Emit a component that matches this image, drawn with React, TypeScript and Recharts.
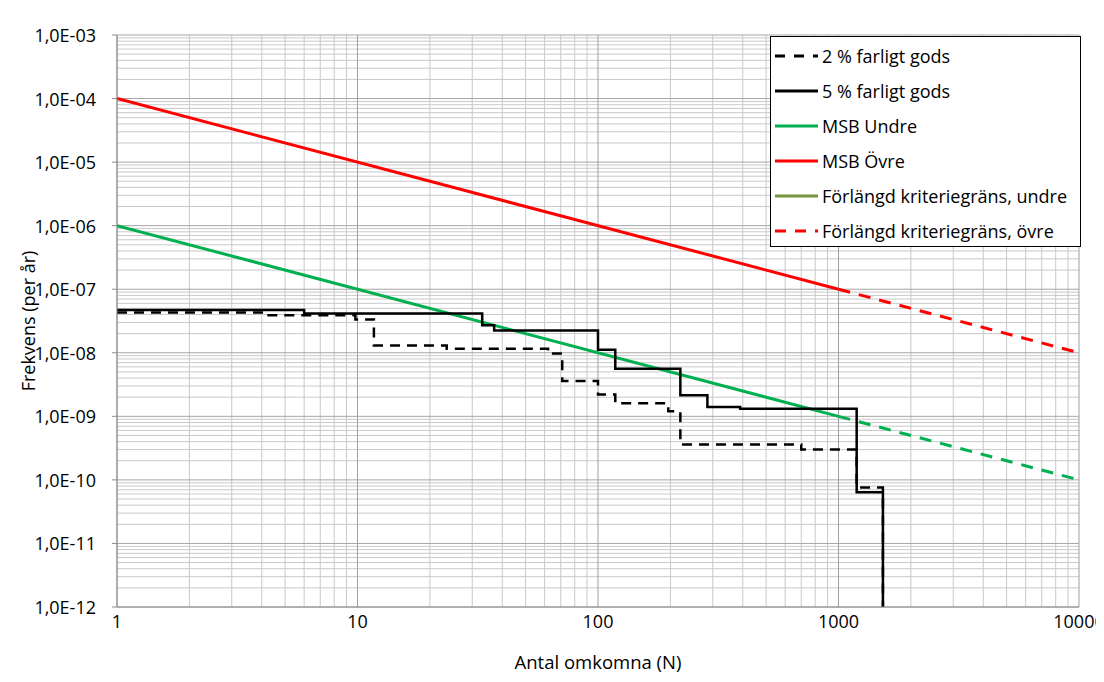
import React from 'react';
import { LineChart, Line, XAxis, YAxis, ReferenceLine, Legend } from 'recharts';

// 5 % farligt gods (stegkurva)
const N5 = [1, 6, 33, 37, 100, 118, 220, 285, 390, 1190, 1530];
const F5 = [4.7e-8, 4.15e-8, 2.7e-8, 2.25e-8, 1.12e-8, 5.6e-9, 2.15e-9, 1.4e-9, 1.32e-9, 6.4e-11, 1e-12];

// 2 % farligt gods (stegkurva)
const N2 = [1, 4, 9.8, 11.7, 23.5, 62, 71, 100, 118, 196, 220, 700, 1190, 1530];
const F2 = [4.3e-8, 3.9e-8, 3.35e-8, 1.3e-8, 1.16e-8, 9.7e-9, 3.6e-9, 2.2e-9, 1.6e-9, 1.2e-9, 3.6e-10, 3.0e-10, 7.6e-11, 1e-12];

// MSB kriterier
const MSB_N = [1, 1000];
const MSB_UNDRE = [1e-6, 1e-9];
const MSB_OVRE = [1e-4, 1e-7];
const EXT_N = [1000, 10000];
const EXT_UNDRE = [1e-9, 1e-10];
const EXT_OVRE = [1e-7, 1e-8];

const X_TICKS = [1, 10, 100, 1000, 10000];
const Y_TICKS = [1e-12, 1e-11, 1e-10, 1e-9, 1e-8, 1e-7, 1e-6, 1e-5, 1e-4, 1e-3];

const GREEN = '#00B050';
const RED = '#FF0000';
const OLIVE = '#77933C';
const FONT = 18;

const zip = (xs: number[], ys: number[]) => xs.map((x, i) => ({ x, y: ys[i] }));

const s5 = zip(N5, F5);
const s2 = zip(N2, F2);
const msbUndre = zip(MSB_N, MSB_UNDRE);
const msbOvre = zip(MSB_N, MSB_OVRE);
const extUndre = zip(EXT_N, EXT_UNDRE);
const extOvre = zip(EXT_N, EXT_OVRE);

// minor gridlines 2..9 per decade
const minorOf = (ticks: number[]) => {
  const out: number[] = [];
  ticks.slice(0, -1).forEach((t) => {
    for (let d = 2; d <= 9; d++) out.push(t * d);
  });
  return out;
};
const X_MINOR = minorOf(X_TICKS);
const Y_MINOR = minorOf(Y_TICKS);

const fmtY = (v: number) => {
  const e = Math.round(Math.log10(v));
  return `1,0E-${String(-e).padStart(2, '0')}`;
};

const LEGEND_ITEMS = [
  { label: '2 % farligt gods', color: '#000', dash: '10 9' },
  { label: '5 % farligt gods', color: '#000' },
  { label: 'MSB Undre', color: GREEN },
  { label: 'MSB Övre', color: RED },
  { label: 'Förlängd kriteriegräns, undre', color: OLIVE },
  { label: 'Förlängd kriteriegräns, övre', color: RED, dash: '11 9' },
];

const LegendBox = () => (
  <div
    style={{
      border: '1.5px solid #000',
      background: '#fff',
      width: 311,
      height: 211,
      paddingTop: 1,
      boxSizing: 'border-box',
      fontFamily: '"Open Sans", sans-serif',
    }}
  >
    {LEGEND_ITEMS.map((it) => (
      <div key={it.label} style={{ display: 'flex', alignItems: 'center', height: 35 }}>
        <svg width={47} height={10} style={{ marginLeft: 4, flexShrink: 0 }}>
          <line x1={0} y1={5} x2={43} y2={5} stroke={it.color} strokeWidth={3} strokeDasharray={it.dash} />
        </svg>
        <span style={{ fontSize: FONT, color: '#000', whiteSpace: 'nowrap' }}>{it.label}</span>
      </div>
    ))}
  </div>
);

const XTick = (props: any) => {
  const { x, y, payload } = props;
  return (
    <text x={x} y={y + 19} textAnchor="middle" style={{ fontSize: FONT }} fill="#000">
      {payload.value}
    </text>
  );
};

const YTick = (props: any) => {
  const { x, y, payload } = props;
  return (
    <text x={x - 16} y={y} textAnchor="end" dominantBaseline="central" style={{ fontSize: FONT }} fill="#000">
      {fmtY(payload.value)}
    </text>
  );
};

const XTitle = (props: any) => {
  const vb = props.viewBox || {};
  const cx = (vb.x ?? 0) + (vb.width ?? 0) / 2;
  const y = (vb.y ?? 0) + 62;
  return (
    <text x={cx} y={y} textAnchor="middle" style={{ fontSize: 18.5 }} fill="#000">
      Antal omkomna (N)
    </text>
  );
};

const YTitle = (props: any) => {
  const vb = props.viewBox || {};
  const cy = (vb.y ?? 0) + (vb.height ?? 0) / 2;
  return (
    <text x={20} y={cy} transform={`rotate(-90 20 ${cy})`} textAnchor="middle" dominantBaseline="central" style={{ fontSize: FONT }} fill="#000">
      Frekvens (per år)
    </text>
  );
};

export default function App() {
  return (
    <div style={{ position: 'relative', width: 1096, height: 674, fontFamily: '"Open Sans", sans-serif', fontSize: FONT, background: '#fff' }}>
      <div style={{ position: 'absolute', left: -1, top: -1, width: 1094, height: 674, border: '1px solid #D9D9D9', pointerEvents: 'none' }} />
      <LineChart width={1096} height={674} margin={{ top: 27, right: 25, bottom: 45, left: 0 }}>
        <XAxis
          dataKey="x"
          type="number"
          scale="log"
          domain={[1, 10000]}
          ticks={X_TICKS}
          allowDataOverflow
          height={30}
          tickLine={false}
          tickSize={0}
          axisLine={{ stroke: '#8C8C8C' }}
          tick={<XTick />}
          label={<XTitle />}
        />
        <YAxis
          dataKey="y"
          type="number"
          scale="log"
          domain={[1e-12, 1e-3]}
          ticks={Y_TICKS}
          allowDataOverflow
          width={109}
          tickSize={5}
          tickMargin={0}
          axisLine={{ stroke: '#8C8C8C' }}
          tickLine={{ stroke: '#8C8C8C' }}
          tick={<YTick />}
          label={<YTitle />}
        />
        {Y_MINOR.map((v) => (
          <ReferenceLine key={`ym${v}`} y={v} stroke="#C9C9C9" strokeWidth={1} />
        ))}
        {X_MINOR.map((v) => (
          <ReferenceLine key={`xm${v}`} x={v} stroke="#C9C9C9" strokeWidth={1} />
        ))}
        {Y_TICKS.map((v) => (
          <ReferenceLine key={`yM${v}`} y={v} stroke="#A6A6A6" strokeWidth={1} />
        ))}
        {X_TICKS.map((v) => (
          <ReferenceLine key={`xM${v}`} x={v} stroke="#A0A0A0" strokeWidth={1} />
        ))}
        <Line data={msbOvre} dataKey="y" stroke={RED} strokeWidth={3} dot={false} isAnimationActive={false} />
        <Line data={extOvre} dataKey="y" stroke={RED} strokeWidth={3} strokeDasharray="12 9" dot={false} isAnimationActive={false} />
        <Line data={msbUndre} dataKey="y" stroke={GREEN} strokeWidth={3} dot={false} isAnimationActive={false} />
        <Line data={extUndre} dataKey="y" stroke={GREEN} strokeWidth={3} strokeDasharray="12 9" dot={false} isAnimationActive={false} />
        <Line data={s2} dataKey="y" type="stepAfter" stroke="#000" strokeWidth={2.5} strokeDasharray="10 7" dot={false} isAnimationActive={false} />
        <Line data={s5} dataKey="y" type="stepAfter" stroke="#000" strokeWidth={2.5} dot={false} isAnimationActive={false} />
        <Legend
          layout="vertical"
          align="center"
          verticalAlign="middle"
          content={() => <LegendBox />}
          wrapperStyle={{ position: 'absolute', left: 762, top: 28, width: 311, height: 211, margin: 0 }}
        />
      </LineChart>
    </div>
  );
}
